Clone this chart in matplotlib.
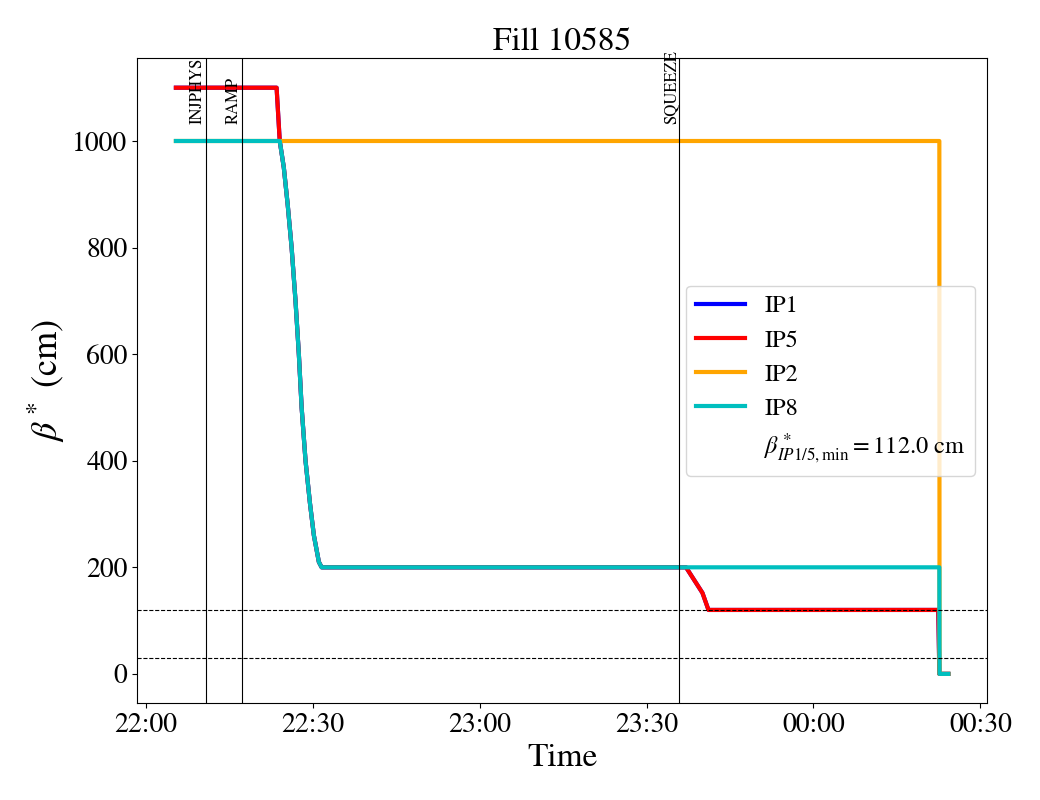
import matplotlib

matplotlib.use("Agg")
import matplotlib.dates as mdates
import matplotlib.pyplot as plt
import pandas as pd

plt.rcParams["font.family"] = "STIXGeneral"
plt.rcParams["mathtext.fontset"] = "stix"

day = "2025-05-06"

# beta* per IP, times as HH:MM:SS (after midnight rolls to next day)
ip15_t = ["22:05:24", "22:23:30", "22:24:04", "22:24:48", "22:25:30",
          "22:26:12", "22:26:54", "22:27:30", "22:28:00", "22:28:42",
          "22:29:30", "22:30:12", "22:31:06", "22:31:36", "23:37:06",
          "23:40:03", "23:41:08", "00:22:27", "00:22:38", "00:24:15"]
ip15_v = [1100, 1100, 1000, 950, 880, 800, 700, 600, 500, 400, 320, 260,
          210, 200, 200, 152, 120, 120, 0, 0]

ip2_t = ["22:05:24", "00:22:38", "00:22:40", "00:24:15"]
ip2_v = [1000, 1000, 0, 0]

ip8_t = ["22:05:24", "22:24:04", "22:24:48", "22:25:30", "22:26:12",
         "22:26:54", "22:27:30", "22:28:00", "22:28:42", "22:29:30",
         "22:30:12", "22:31:06", "22:31:36", "00:22:38", "00:22:40",
         "00:24:15"]
ip8_v = [1000, 1000, 950, 880, 800, 700, 600, 500, 400, 320, 260, 210,
         200, 200, 0, 0]

modes = ["INJPHYS", "RAMP", "SQUEEZE"]
mode_t = ["22:10:47", "22:17:15", "23:35:55"]

beta_min = 112.0
ref_levels = [120, 30]


def to_time(stamps):
    out = []
    for s in stamps:
        ts = pd.Timestamp(f"{day} {s}")
        if ts.hour < 12:
            ts += pd.Timedelta(days=1)
        out.append(ts)
    return out


fig, ax = plt.subplots(figsize=(10.4, 8), dpi=100)
fig.subplots_adjust(left=0.132, right=0.949, top=0.927, bottom=0.121)

ax.plot(to_time(ip15_t), ip15_v, color="blue", lw=3, label="IP1")
ax.plot(to_time(ip15_t), ip15_v, color="red", lw=3, label="IP5")
ax.plot(to_time(ip2_t), ip2_v, color="orange", lw=3, label="IP2")
ax.plot(to_time(ip8_t), ip8_v, color="c", lw=3, label="IP8")
ax.plot([], [], " ",
        label=rf"$\beta^*_{{IP1/5,\mathrm{{min}}}} = {beta_min:.1f}$ cm")

for name, t in zip(modes, to_time(mode_t)):
    ax.axvline(t, color="black", lw=0.8)
    ax.text(t, 1032, name, rotation=90, ha="right", va="bottom",
            fontsize=12)

for lvl in ref_levels:
    ax.axhline(lvl, color="black", ls="--", lw=0.8)

ax.xaxis.set_major_locator(mdates.MinuteLocator(byminute=[0, 30]))
ax.xaxis.set_major_formatter(mdates.DateFormatter("%H:%M"))
ax.tick_params(labelsize=20)
ax.set_xlabel("Time", fontsize=24)
ax.set_ylabel(r"$\beta^*$ (cm)", fontsize=26)
ax.set_title("Fill 10585", fontsize=24)
ax.legend(loc="center right", fontsize=17.5, handlelength=2.0)

fig.savefig("out.png")
